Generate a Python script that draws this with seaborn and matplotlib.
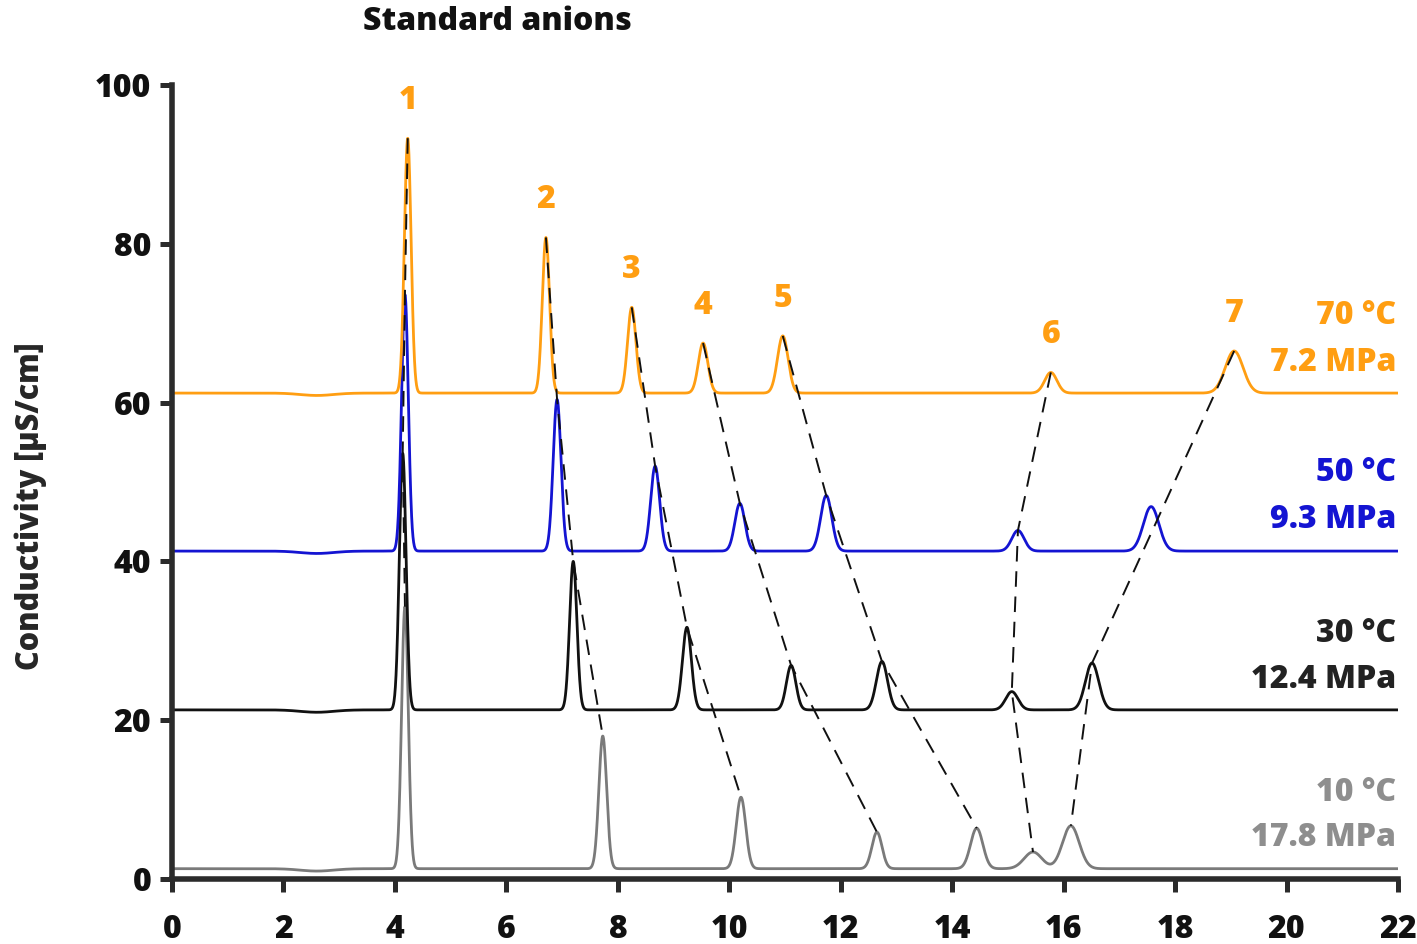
import numpy as np
import pandas as pd
import matplotlib
matplotlib.use("Agg")
import matplotlib.pyplot as plt
import seaborn as sns

# ---------------- data ----------------
traces = ["70 °C", "50 °C", "30 °C", "10 °C"]
pressures = ["7.2 MPa", "9.3 MPa", "12.4 MPa", "17.8 MPa"]
baselines = [61.2, 41.3, 21.3, 1.3]

peak_labels = ["1", "2", "3", "4", "5", "6", "7"]

rt_70 = [4.23, 6.71, 8.25, 9.53, 10.96, 15.77, 19.06]
ht_70 = [32.1, 19.6, 10.8, 6.3, 7.2, 2.6, 5.3]
sd_70 = [0.060, 0.065, 0.075, 0.085, 0.095, 0.11, 0.16]

rt_50 = [4.18, 6.91, 8.67, 10.19, 11.74, 15.18, 17.57]
ht_50 = [32.3, 19.1, 10.7, 6.0, 7.0, 2.6, 5.6]
sd_50 = [0.060, 0.070, 0.080, 0.090, 0.100, 0.11, 0.14]

rt_30 = [4.14, 7.20, 9.24, 11.11, 12.74, 15.07, 16.51]
ht_30 = [32.3, 18.7, 10.4, 5.6, 6.1, 2.3, 5.9]
sd_30 = [0.060, 0.065, 0.080, 0.085, 0.100, 0.11, 0.12]

rt_10 = [4.18, 7.73, 10.21, 12.65, 14.44, 15.45, 16.13]
ht_10 = [33.0, 16.7, 9.0, 4.6, 5.1, 2.1, 5.4]
sd_10 = [0.060, 0.070, 0.085, 0.090, 0.110, 0.16, 0.15]

# small system dip near 2.6 min
dip_rt = 2.6
dip_depth = 0.3
dip_sd = 0.3

label_y_temp = [70.9, 51.1, 30.9, 10.8]
label_y_press = [65.0, 45.2, 25.0, 5.2]

colors = ["#FF9E12", "#1414D2", "#111111", "#7a7a7a"]
text_colors = ["#FF9E12", "#1414D2", "#222222", "#8e8e8e"]

# which traces each dashed connector passes through (indices into traces)
connector_nodes = [[0, 1, 2, 3]] * 6 + [[0, 2, 3]]

# ---------------- build traces ----------------
t = np.linspace(0, 22, 5501)
rts = [rt_70, rt_50, rt_30, rt_10]
hts = [ht_70, ht_50, ht_30, ht_10]
sds = [sd_70, sd_50, sd_30, sd_10]

frames = []
for name, base, r, h, s in zip(traces, baselines, rts, hts, sds):
    y = np.full_like(t, base)
    y -= dip_depth * np.exp(-0.5 * ((t - dip_rt) / dip_sd) ** 2)
    for ri, hi, si in zip(r, h, s):
        y += hi * np.exp(-0.5 * ((t - ri) / si) ** 2)
    frames.append(pd.DataFrame({"t": t, "c": y, "trace": name}))
df = pd.concat(frames, ignore_index=True)

conn_rows = []
for k in range(len(peak_labels)):
    for order, i in enumerate(connector_nodes[k]):
        conn_rows.append({"t": rts[i][k], "c": baselines[i] + hts[i][k],
                          "peak": peak_labels[k], "order": order})
conn = pd.DataFrame(conn_rows)

# ---------------- plot ----------------
sns.set_theme(style="ticks")
plt.rcParams["font.family"] = ["Open Sans", "DejaVu Sans"]
plt.rcParams["font.weight"] = "bold"

FS = 23
WT = 800

fig = plt.figure(figsize=(14.17, 9.44), dpi=100)
ax = fig.add_axes([172 / 1417, 65 / 944, 1226 / 1417, 794 / 944])

# draw bottom trace first so upper traces sit on top
for name, col in list(zip(traces, colors))[::-1]:
    sub = df[df["trace"] == name]
    sns.lineplot(data=sub, x="t", y="c", color=col, linewidth=2.0,
                 estimator=None, sort=False, ax=ax, legend=False)

sns.lineplot(data=conn, x="t", y="c", units="peak", estimator=None, sort=False,
             color="#111111", linewidth=1.4, dashes=False, ax=ax, legend=False,
             linestyle=(0, (8, 5)))

# peak numbers above the 70 °C trace
for k, lab in enumerate(peak_labels):
    ax.text(rt_70[k], baselines[0] + ht_70[k] + 4.7, lab, color=text_colors[0],
            fontsize=FS, fontweight=WT, ha="center", va="center")

# condition labels on the right
for i in range(4):
    ax.text(21.97, label_y_temp[i], traces[i], color=text_colors[i], fontsize=FS,
            fontweight=WT, ha="right", va="center")
    ax.text(21.97, label_y_press[i], pressures[i], color=text_colors[i], fontsize=FS,
            fontweight=WT, ha="right", va="center")

ax.set_xlim(0, 22)
ax.set_ylim(0, 100)
ax.set_xticks(np.arange(0, 23, 2))
ax.set_yticks(np.arange(0, 101, 20))
ax.set_xlabel("")
ax.set_ylabel("Conductivity [µS/cm]", fontsize=FS - 1, fontweight=WT)
ax.yaxis.set_label_coords(-0.102, 0.47)

spine_col = "#2b2b2b"
for side in ["top", "right"]:
    ax.spines[side].set_visible(False)
for side in ["left", "bottom"]:
    ax.spines[side].set_linewidth(4.0)
    ax.spines[side].set_color(spine_col)
    ax.spines[side].set_capstyle("projecting")
ax.tick_params(axis="both", which="major", length=9, width=3.6, color=spine_col,
               labelsize=FS, labelcolor="#111111")
ax.tick_params(axis="x", pad=16)
ax.tick_params(axis="y", pad=6)
for lab in ax.get_xticklabels() + ax.get_yticklabels():
    lab.set_fontweight(WT)

fig.text(497 / 1417, 1 - 22 / 944, "Standard anions", fontsize=FS, fontweight=WT,
         ha="center", va="center", color="#111111")

fig.savefig("out.png", dpi=100, facecolor="white")
